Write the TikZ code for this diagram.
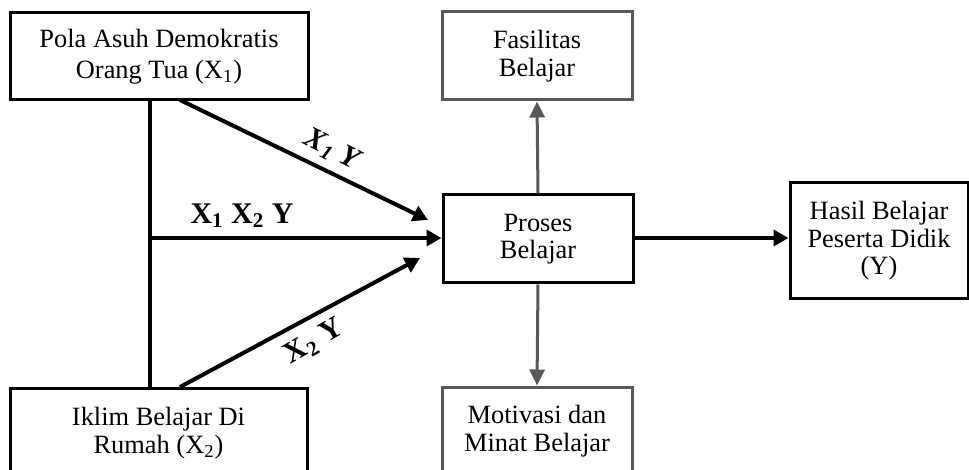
\documentclass[tikz,border=0pt]{standalone}
\usepackage{fontspec}
\setmainfont{Liberation Serif}
\usetikzlibrary{arrows.meta,calc}
\begin{document}
\begin{tikzpicture}[x=0.5pt,y=-0.5pt,
  box/.style={draw,line width=1.5pt,align=center,inner sep=0pt,
    font=\fontsize{13.2}{13.8}\selectfont},
  gbox/.style={box,draw=graybox},
  blk/.style={line width=2pt,-{Triangle[length=7.5pt,width=8pt]}},
  gry/.style={line width=1.5pt,draw=graybox,-{Triangle[length=8pt,width=7.5pt,fill=graybox]}},
  lbl/.style={font=\fontsize{15}{15}\selectfont\bfseries}]
\definecolor{graybox}{HTML}{595959}
\useasboundingbox (0,0) rectangle (969,470);
\clip (0,0) rectangle (969,470);
\node[box,minimum width=149pt,minimum height=43.5pt] (pola) at (159,56.5)
  {Pola Asuh Demokratis\\[1.5pt]Orang Tua (X\textsubscript{1})};
\node[box,minimum width=148.5pt,minimum height=45pt] (iklim) at (158.5,433)
  {Iklim Belajar Di\\Rumah (X\textsubscript{2})};
\node[gbox,minimum width=95pt,minimum height=44pt] (fas) at (537,56)
  {Fasilitas\\Belajar};
\node[box,minimum width=95pt,minimum height=44pt] (pro) at (538,239)
  {Proses\\Belajar};
\node[gbox,minimum width=95pt,minimum height=44pt] (mot) at (537,431)
  {Motivasi dan\\Minat Belajar};
\node[box,minimum width=89pt,minimum height=58pt] (has) at (879,241)
  {Hasil Belajar\\Peserta Didik\\(Y)};
\draw[line width=2pt] (pola.south -| 150,0) -- (iklim.north -| 150,0);
\coordinate (j) at (150,238);
\coordinate (a1) at (180,100);
\coordinate (t1) at (428,220);
\coordinate (a2) at (180,387);
\coordinate (t2) at (420,258);
\draw[blk] (a1) -- (t1);
\draw[blk] (j) -- (pro.west |- j);
\draw[blk] (a2) -- (t2);
\draw[blk] (pro.east |- j) -- (has.west |- j);
\draw[gry] (pro.north) -- (fas.south);
\draw[gry] (pro.south) -- (mot.north);
\node[lbl] (l12) at (242,216) {X\textsubscript{1} X\textsubscript{2} Y};
\node[lbl,rotate=-27] (l1) at (332,150) {\itshape X\textsubscript{1} Y};
\node[lbl,rotate=30] (l2) at (314,342) {X\textsubscript{2} Y};
\end{tikzpicture}
\end{document}
